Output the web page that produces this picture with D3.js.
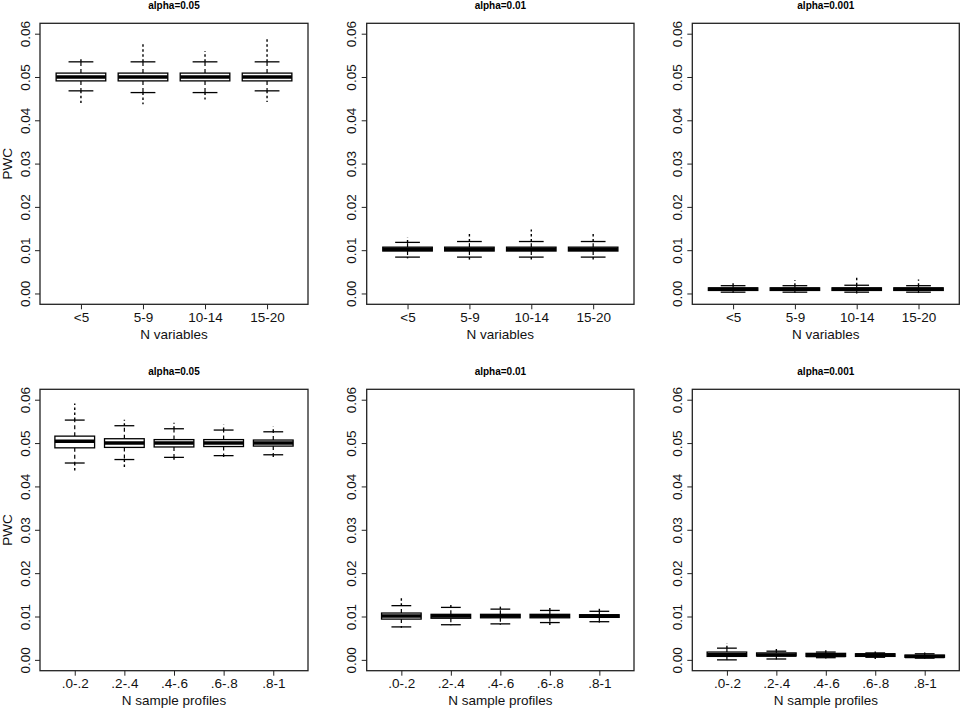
<!DOCTYPE html>
<html>
<head>
<meta charset="utf-8">
<script src="https://cdn.jsdelivr.net/npm/d3@7"></script>
<style>
  html, body { margin: 0; padding: 0; background: #fff; }
  svg { display: block; font-family: "Liberation Sans", Arial, sans-serif; }
</style>
</head>
<body>
<svg id="chart" width="964" height="712"></svg>
<script>
// ---------- data ----------
const varCats = ["<5", "5-9", "10-14", "15-20"];
const profCats = [".0-.2", ".2-.4", ".4-.6", ".6-.8", ".8-1"];
const yTicks = [0.00, 0.01, 0.02, 0.03, 0.04, 0.05, 0.06];
const alphaTitles = ["alpha=0.05", "alpha=0.01", "alpha=0.001"];
const xTitles = ["N variables", "N sample profiles"];
const yTitle = "PWC";

// boxplot statistics per panel: extreme min, lower whisker, Q1, median, Q3, upper whisker, extreme max
// Row 1: N variables
const v05_lo  = [0.0440, 0.0437, 0.0448, 0.0442];
const v05_wlo = [0.0468, 0.0464, 0.0464, 0.0468];
const v05_q1  = [0.0491, 0.0491, 0.0491, 0.0491];
const v05_med = [0.0500, 0.0500, 0.0500, 0.0500];
const v05_q3  = [0.0509, 0.0509, 0.0509, 0.0509];
const v05_whi = [0.0535, 0.0535, 0.0535, 0.0535];
const v05_hi  = [0.0546, 0.0578, 0.0560, 0.0592];

const v01_lo  = [0.0081, 0.0078, 0.0073, 0.0073];
const v01_wlo = [0.0084, 0.0084, 0.0084, 0.0084];
const v01_q1  = [0.0098, 0.0098, 0.0098, 0.0098];
const v01_med = [0.0102, 0.0102, 0.0102, 0.0102];
const v01_q3  = [0.0107, 0.0107, 0.0107, 0.0107];
const v01_whi = [0.0118, 0.0120, 0.0120, 0.0120];
const v01_hi  = [0.0130, 0.0141, 0.0148, 0.0138];

const v001_lo  = [0.0001, 0.0001, 0.0000, 0.0001];
const v001_wlo = [0.0003, 0.0003, 0.0003, 0.0003];
const v001_q1  = [0.0007, 0.0007, 0.0007, 0.0007];
const v001_med = [0.0010, 0.0010, 0.0010, 0.0010];
const v001_q3  = [0.0013, 0.0013, 0.0013, 0.0013];
const v001_whi = [0.0018, 0.0018, 0.0019, 0.0018];
const v001_hi  = [0.0027, 0.0031, 0.0037, 0.0032];

// Row 2: N sample profiles
const p05_lo  = [0.0436, 0.0443, 0.0460, 0.0468, 0.0468];
const p05_wlo = [0.0454, 0.0462, 0.0467, 0.0471, 0.0473];
const p05_q1  = [0.0489, 0.0490, 0.0491, 0.0492, 0.0493];
const p05_med = [0.0504, 0.0500, 0.0500, 0.0500, 0.0500];
const p05_q3  = [0.0516, 0.0510, 0.0508, 0.0508, 0.0507];
const p05_whi = [0.0553, 0.0540, 0.0533, 0.0530, 0.0526];
const p05_hi  = [0.0591, 0.0554, 0.0547, 0.0542, 0.0538];

const p01_lo  = [0.0074, 0.0080, 0.0081, 0.0079, 0.0086];
const p01_wlo = [0.0076, 0.0081, 0.0083, 0.0086, 0.0088];
const p01_q1  = [0.0094, 0.0096, 0.0097, 0.0097, 0.0098];
const p01_med = [0.0101, 0.0101, 0.0101, 0.0101, 0.0101];
const p01_q3  = [0.0108, 0.0105, 0.0105, 0.0105, 0.0104];
const p01_whi = [0.0125, 0.0121, 0.0117, 0.0114, 0.0112];
const p01_hi  = [0.0146, 0.0132, 0.0125, 0.0124, 0.0118];

const p001_lo  = [0.0000, 0.0001, 0.0003, 0.0002, 0.0003];
const p001_wlo = [0.0000, 0.0002, 0.0005, 0.0006, 0.0004];
const p001_q1  = [0.0008, 0.0009, 0.0008, 0.0008, 0.0006];
const p001_med = [0.0012, 0.0011, 0.0010, 0.0011, 0.0008];
const p001_q3  = [0.0018, 0.0016, 0.0015, 0.0014, 0.0011];
const p001_whi = [0.0027, 0.0020, 0.0018, 0.0016, 0.0014];
const p001_hi  = [0.0039, 0.0025, 0.0022, 0.0019, 0.0017];

// ---------- layout ----------
const colX = [[40, 308], [366.7, 634], [692.3, 959.3]];
const rowY = [[23.3, 304.3], [389.3, 670.7]];
const yDomain = [-0.0025, 0.0624];

function zipStats(lo, wlo, q1, med, q3, whi, hi) {
  return lo.map((d, i) => ({ lo: lo[i], wlo: wlo[i], q1: q1[i], med: med[i], q3: q3[i], whi: whi[i], hi: hi[i] }));
}

const panels = [
  { row: 0, col: 0, cats: varCats, stats: zipStats(v05_lo, v05_wlo, v05_q1, v05_med, v05_q3, v05_whi, v05_hi) },
  { row: 0, col: 1, cats: varCats, stats: zipStats(v01_lo, v01_wlo, v01_q1, v01_med, v01_q3, v01_whi, v01_hi) },
  { row: 0, col: 2, cats: varCats, stats: zipStats(v001_lo, v001_wlo, v001_q1, v001_med, v001_q3, v001_whi, v001_hi) },
  { row: 1, col: 0, cats: profCats, stats: zipStats(p05_lo, p05_wlo, p05_q1, p05_med, p05_q3, p05_whi, p05_hi) },
  { row: 1, col: 1, cats: profCats, stats: zipStats(p01_lo, p01_wlo, p01_q1, p01_med, p01_q3, p01_whi, p01_hi) },
  { row: 1, col: 2, cats: profCats, stats: zipStats(p001_lo, p001_wlo, p001_q1, p001_med, p001_q3, p001_whi, p001_hi) }
];

const svg = d3.select("#chart");

panels.forEach(p => {
  const [x0, x1] = colX[p.col];
  const [y0, y1] = rowY[p.row];
  const n = p.cats.length;
  const ext = n * 0.04;
  const x = d3.scaleLinear().domain([0.5 - ext, n + 0.5 + ext]).range([x0, x1]);
  const y = d3.scaleLinear().domain(yDomain).range([y1, y0]);
  const unit = x(2) - x(1);
  const bw = unit * 0.8;
  const cw = bw * 0.5;

  const g = svg.append("g");

  // title
  g.append("text")
    .attr("x", (x0 + x1) / 2)
    .attr("y", y0 - 14.5)
    .attr("text-anchor", "middle")
    .attr("font-size", 10).attr("font-weight", "bold")
    .text(alphaTitles[p.col]);

  // y axis
  const yAxis = d3.axisLeft(y).tickValues(yTicks).tickSize(5).tickFormat(d3.format(".2f"));
  const ya = g.append("g").attr("transform", `translate(${x0},0)`).call(yAxis);
  ya.select(".domain").remove();
  ya.selectAll(".tick line").attr("stroke", "#222").attr("stroke-width", 1);
  ya.selectAll(".tick text")
    .attr("font-size", 13.5).attr("font-family", "Liberation Sans, Arial, sans-serif")
    .attr("fill", "#111")
    .attr("x", null).attr("dy", null)
    .attr("text-anchor", "middle")
    .attr("transform", "translate(-15,0) rotate(-90)")
    .attr("dy", "0.35em");

  // x axis
  const xAxis = d3.axisBottom(x).tickValues(d3.range(1, n + 1)).tickSize(5)
    .tickFormat(i => p.cats[i - 1]);
  const xa = g.append("g").attr("transform", `translate(0,${y1})`).call(xAxis);
  xa.select(".domain").remove();
  xa.selectAll(".tick line").attr("stroke", "#222").attr("stroke-width", 1);
  xa.selectAll(".tick text")
    .attr("font-size", 13.5).attr("font-family", "Liberation Sans, Arial, sans-serif")
    .attr("fill", "#111")
    .attr("dy", null)
    .attr("y", 17.8);

  // x title
  g.append("text")
    .attr("x", (x0 + x1) / 2)
    .attr("y", y1 + (p.row === 0 ? 34.7 : 34))
    .attr("text-anchor", "middle")
    .attr("font-size", 13.5).attr("fill", "#111")
    .text(xTitles[p.row]);

  // y title
  if (p.col === 0) {
    g.append("text")
      .attr("transform", `translate(12,${(y0 + y1) / 2}) rotate(-90)`)
      .attr("text-anchor", "middle")
      .attr("font-size", 13.5).attr("fill", "#111")
      .text(yTitle);
  }

  // boxes
  const bx = g.append("g").selectAll("g").data(p.stats).join("g");
  const cx = (d, i) => x(i + 1);
  // outlier extents (dense points)
  bx.append("line")
    .attr("x1", cx).attr("x2", cx)
    .attr("y1", d => y(d.whi)).attr("y2", d => y(d.hi))
    .attr("stroke", "#000").attr("stroke-width", 1.4).attr("stroke-dasharray", "2.5,2.5");
  bx.append("line")
    .attr("x1", cx).attr("x2", cx)
    .attr("y1", d => y(d.wlo)).attr("y2", d => y(d.lo))
    .attr("stroke", "#000").attr("stroke-width", 1.4).attr("stroke-dasharray", "2.5,2.5");
  // whiskers (dashed)
  bx.append("line")
    .attr("x1", cx).attr("x2", cx)
    .attr("y1", d => y(d.q3)).attr("y2", d => y(d.whi))
    .attr("stroke", "#000").attr("stroke-width", 1.2).attr("stroke-dasharray", "4,3");
  bx.append("line")
    .attr("x1", cx).attr("x2", cx)
    .attr("y1", d => y(d.q1)).attr("y2", d => y(d.wlo))
    .attr("stroke", "#000").attr("stroke-width", 1.2).attr("stroke-dasharray", "4,3");
  // caps
  bx.append("line")
    .attr("x1", (d, i) => x(i + 1) - cw / 2).attr("x2", (d, i) => x(i + 1) + cw / 2)
    .attr("y1", d => y(d.whi)).attr("y2", d => y(d.whi))
    .attr("stroke", "#000").attr("stroke-width", 1.3);
  bx.append("line")
    .attr("x1", (d, i) => x(i + 1) - cw / 2).attr("x2", (d, i) => x(i + 1) + cw / 2)
    .attr("y1", d => y(d.wlo)).attr("y2", d => y(d.wlo))
    .attr("stroke", "#000").attr("stroke-width", 1.3);
  // box
  bx.append("rect")
    .attr("x", (d, i) => x(i + 1) - bw / 2).attr("width", bw)
    .attr("y", d => y(d.q3)).attr("height", d => y(d.q1) - y(d.q3))
    .attr("fill", "#fff").attr("stroke", "#000").attr("stroke-width", 1.3);
  // median
  bx.append("line")
    .attr("x1", (d, i) => x(i + 1) - bw / 2).attr("x2", (d, i) => x(i + 1) + bw / 2)
    .attr("y1", d => y(d.med)).attr("y2", d => y(d.med))
    .attr("stroke", "#000").attr("stroke-width", 3.5);

  // frame
  g.append("rect")
    .attr("x", x0).attr("y", y0).attr("width", x1 - x0).attr("height", y1 - y0)
    .attr("fill", "none").attr("stroke", "#222").attr("stroke-width", 1.3);
});
</script>
</body>
</html>
